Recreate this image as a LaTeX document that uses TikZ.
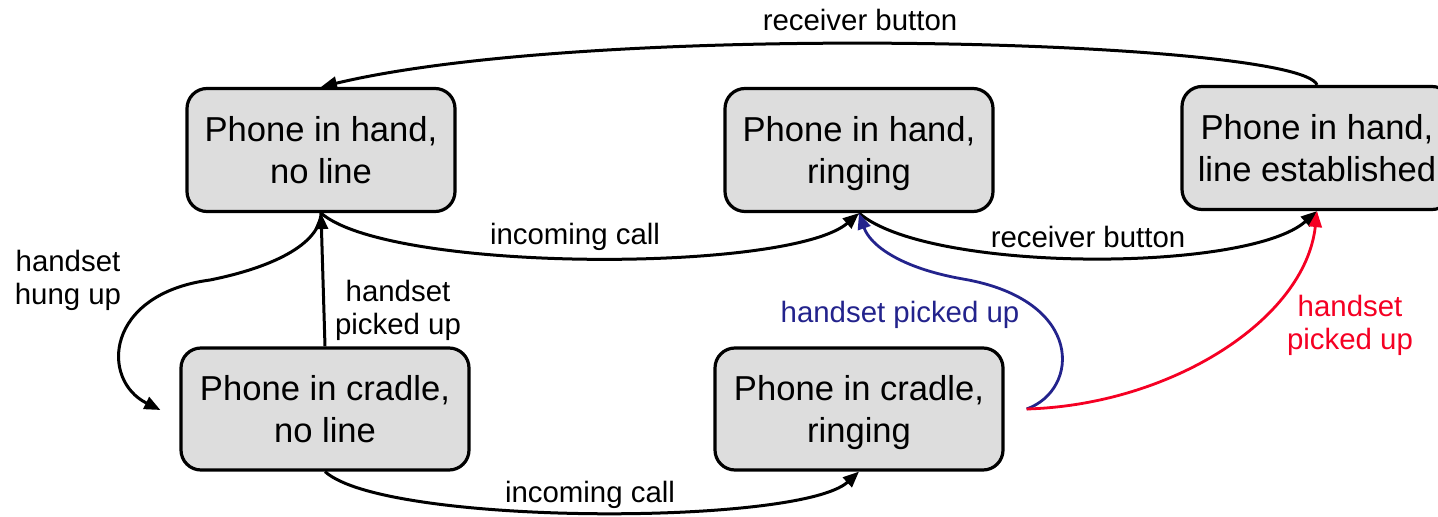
\documentclass[tikz,border=0pt]{standalone}
\usepackage{fontspec}
\setmainfont{Liberation Sans}
\usetikzlibrary{arrows.meta,calc}
\definecolor{boxfill}{RGB}{221,221,221}
\definecolor{navy}{RGB}{35,35,140}
\definecolor{alarm}{RGB}{245,0,35}
\begin{document}
\begin{tikzpicture}[x=0.5pt,y=-0.5pt,
  state/.style={draw,line width=1.6pt,rounded corners=10pt,fill=boxfill,
    align=center,font=\fontsize{17.3}{21}\selectfont,inner sep=0pt},
  handbox/.style={minimum width=134pt,minimum height=61.5pt},
  cradlebox/.style={minimum width=144pt,minimum height=61pt},
  trans/.style={line width=1.5pt,-{Triangle[length=8pt,width=6.5pt]}},
  lbl/.style={font=\fontsize{14.7}{16.5}\selectfont,align=center,inner sep=0pt}]
\useasboundingbox (0,0) rectangle (1438,517);
\clip (0,0) rectangle (1438,517);

% states (descenders of the last line are smashed so that all boxes centre alike)
\node[state,handbox] (A) at (321,150) {Phone in hand,\\no line};
\node[state,handbox] (B) at (859,150) {Phone in hand,\\\smash{ringing}};
\node[state,handbox,minimum width=135pt] (C) at (1317,148) {Phone in hand,\\line established};
\node[state,cradlebox] (D) at (325,409) {Phone in cradle,\\no line};
\node[state,cradlebox] (E) at (859,409) {Phone in cradle,\\\smash{ringing}};

% common start of the two pick-up transitions
\coordinate (fork) at ($(E.east)+(22,0)$);
\coordinate (hungEnd) at ($(D.west)+(-19,1)$);

% transitions
\draw[trans] (C.north) .. controls (1300,40) and (600,20) .. (A.north);
\draw[trans] (A.south) .. controls (390,273) and (790,273) .. (B.south);
\draw[trans] (B.south) .. controls (928,273) and (1248,273) .. (C.south);
\draw[trans] (D.north) -- (A.south);
\draw[trans] (A.south) .. controls (320,245) and (270,268) .. (210,280)
  .. controls (105,294) and (100,380) .. (hungEnd);
\draw[trans] (D.south) .. controls (385,526) and (800,526) .. (E.south);
\draw[trans,navy,line width=1.4pt] (fork) .. controls (1080,390) and (1085,300) .. (963,279)
  .. controls (900,268) and (870,245) .. (B.south);
\draw[trans,alarm,line width=1.4pt] (fork) .. controls (1170,405) and (1305,320) .. (C.south);

% transition labels
\node[lbl] (l1) at (860,20) {receiver button};
\node[lbl] (l2) at (575,237) {incoming call};
\node[lbl] (l3) at (1088,237) {receiver button};
\node[lbl] (l4) at (398,310) {handset\\picked up};
\node[lbl] (l5) at (68,280) {handset\\hung up};
\node[lbl] (l6) at (590,495) {incoming call};
\node[lbl,text=navy] (l7) at (900,315) {handset picked up};
\node[lbl,text=alarm] (l8) at (1350,325) {handset\\picked up};
\end{tikzpicture}
\end{document}
